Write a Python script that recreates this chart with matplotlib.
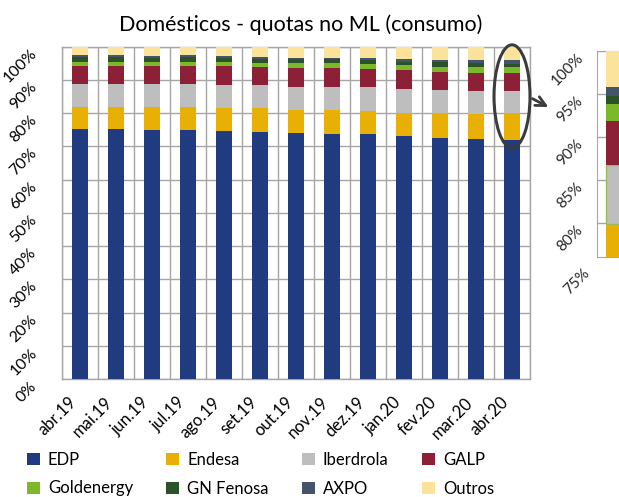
import matplotlib
matplotlib.use("Agg")
import matplotlib.pyplot as plt
import matplotlib.transforms as mtransforms
from matplotlib.patches import Ellipse, Patch

plt.rcParams['font.family'] = ['Lato', 'DejaVu Sans']

# --- data (quotas %) ---
months = ['abr.19', 'mai.19', 'jun.19', 'jul.19', 'ago.19', 'set.19', 'out.19',
          'nov.19', 'dez.19', 'jan.20', 'fev.20', 'mar.20', 'abr.20']
edp = [75.1, 75.1, 74.8, 74.8, 74.5, 74.2, 73.9, 73.6, 73.6, 73.0, 72.6, 72.3, 72.0]
endesa = [6.7, 6.7, 6.9, 6.9, 6.9, 7.2, 7.1, 7.4, 7.1, 7.1, 7.5, 7.4, 7.9]
iberdrola = [6.8, 6.8, 6.9, 6.9, 7.0, 6.9, 6.9, 6.9, 7.2, 7.2, 6.8, 6.9, 6.8]
galp = [5.5, 5.5, 5.5, 5.5, 5.7, 5.4, 5.5, 5.5, 5.2, 5.5, 5.5, 5.4, 5.2]
goldenergy = [1.2, 1.2, 1.2, 1.2, 1.2, 1.2, 1.6, 1.6, 1.5, 1.5, 1.5, 1.8, 1.9]
gn_fenosa = [1.4, 1.4, 1.3, 1.4, 1.3, 1.4, 1.1, 1.1, 1.2, 1.1, 1.3, 1.2, 1.0]
axpo = [0.6, 0.6, 0.5, 0.6, 0.5, 0.6, 0.5, 0.5, 0.8, 0.9, 0.7, 0.9, 1.0]
outros = [2.7, 2.7, 2.9, 2.7, 2.9, 3.1, 3.4, 3.4, 3.4, 3.7, 4.1, 4.1, 4.2]

names = ['EDP', 'Endesa', 'Iberdrola', 'GALP', 'Goldenergy', 'GN Fenosa', 'AXPO', 'Outros']
series = [edp, endesa, iberdrola, galp, goldenergy, gn_fenosa, axpo, outros]
colors = ['#203B80', '#E8B004', '#BEBEBE', '#8C2036', '#7BB92A', '#2C5229', '#44546A', '#FCE39B']

y_ticks = [0, 10, 20, 30, 40, 50, 60, 70, 80, 90, 100]
zoom_ticks = [80, 85, 90, 95, 100]

grid_col = '#A6A6A6'

fig = plt.figure(figsize=(6.19, 4.97), dpi=100)
ax = fig.add_axes([62 / 619, 1 - 379 / 497, 468 / 619, 332.5 / 497])

x = list(range(len(months)))
bottom = [0.0] * len(months)
for vals, col in zip(series, colors):
    ax.bar(x, vals, width=0.44, bottom=bottom, color=col, edgecolor='none', zorder=3)
    bottom = [b + v for b, v in zip(bottom, vals)]

ax.set_xlim(-0.5, len(months) - 0.5)
ax.set_ylim(0, 100)
ax.set_yticks(y_ticks)
ax.set_yticklabels([f'{t}%' for t in y_ticks], rotation=45, ha='right', va='top', fontsize=11.5)
ax.set_xticks(x)
ax.set_xticklabels(months, rotation=45, ha='right', va='top', fontsize=12)
shift = mtransforms.ScaledTranslation(8 / 100, 0, fig.dpi_scale_trans)
for lab in ax.get_xticklabels():
    lab.set_transform(lab.get_transform() + shift)
ax.set_xticks([i - 0.5 for i in range(len(months) + 1)], minor=True)
ax.tick_params(axis='both', which='both', length=0)
ax.tick_params(axis='y', pad=16)
ax.tick_params(axis='x', pad=11)
ax.grid(True, axis='y', color=grid_col, lw=1.0, zorder=0)
ax.grid(True, axis='x', which='minor', color=grid_col, lw=1.0, zorder=0)
ax.grid(False, axis='x', which='major')
for s in ax.spines.values():
    s.set_color(grid_col)
    s.set_linewidth(1.0)

ax.set_title('Domésticos - quotas no ML (consumo)', fontsize=15.5, pad=11, x=0.51)

# ellipse around the last month and arrow to the zoom
last = len(months) - 1
ax.add_patch(Ellipse((last, 85.0), 1.0, 31.0, fill=False, edgecolor='#3C3C3C',
                     lw=2.2, clip_on=False, zorder=5))
ax.annotate('', xy=(last + 1.08, 81.4), xytext=(last + 0.5, 84.7),
            arrowprops=dict(arrowstyle='->,head_length=0.7,head_width=0.35',
                            color='#3C3C3C', lw=2.0),
            annotation_clip=False)

# zoomed view of the last month
ax2 = fig.add_axes([597 / 619, 1 - 256.7 / 497, 43 / 619, 206 / 497])
bot = 0.0
for vals, col, nm in zip(series, colors, names):
    ax2.bar([0], [vals[last]], width=1.0, bottom=[bot], color=col,
            edgecolor='#9BBB59' if nm == 'Iberdrola' else 'none', lw=1.0, zorder=3)
    bot += vals[last]
ax2.set_xlim(-1.05, 1.65)
ax2.set_ylim(76.1, 100)
ax2.set_yticks(zoom_ticks)
ax2.set_yticklabels([f'{t}%' for t in zoom_ticks], rotation=45, ha='right', va='top',
                    fontsize=11, color='#262626')
ax2.text(-0.1, 75.0, '75%', transform=ax2.get_yaxis_transform(), rotation=45,
         ha='right', va='top', fontsize=11, color='#262626', clip_on=False)
ax2.set_xticks([])
ax2.tick_params(axis='y', length=0, pad=8)
ax2.grid(True, axis='y', color=grid_col, lw=1.0, zorder=0)
for s in ax2.spines.values():
    s.set_color(grid_col)

# legend, row-major order in 4 columns
handles = [Patch(facecolor=c, edgecolor='none', label=n) for n, c in zip(names, colors)]
order = [0, 4, 1, 5, 2, 6, 3, 7]
fig.legend([handles[i] for i in order], [names[i] for i in order], ncol=4,
           loc='upper left', bbox_to_anchor=(27 / 619, 1 - 452 / 497), frameon=False,
           fontsize=12, handlelength=0.75, handleheight=0.75, handletextpad=0.5,
           columnspacing=2.0, labelspacing=0.75, borderaxespad=0, borderpad=0)

fig.savefig('out.png', dpi=100)
